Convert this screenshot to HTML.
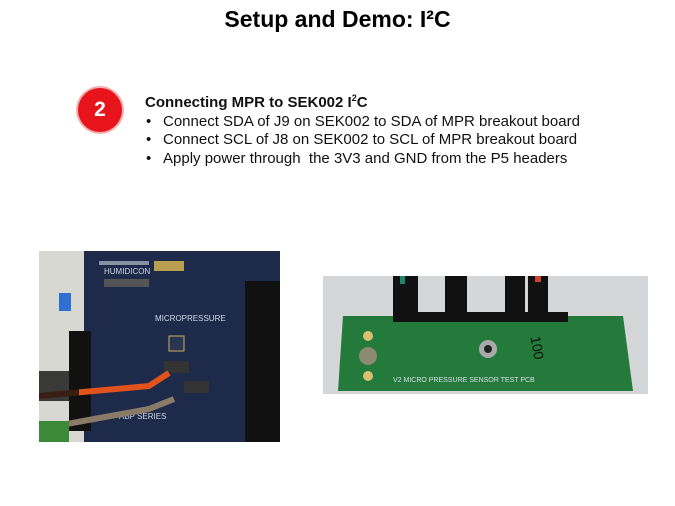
<!DOCTYPE html>
<html><head><meta charset="utf-8"><style>
body{margin:0;width:675px;height:506px;background:#fff;position:relative;overflow:hidden;font-family:"Liberation Sans",Arial,sans-serif}
.t{position:absolute;top:6px;left:0;width:675px;text-align:center;font-size:23px;font-weight:bold;color:#000}
.c{position:absolute;left:78px;top:88px;width:44px;height:44px;border-radius:50%;background:#e8141c;color:#fff;font-size:21px;font-weight:bold;text-align:center;line-height:44px;box-shadow:0 0 0 2px #f3b0b0}
.tx{position:absolute;left:145px;top:89px;font-size:15px;line-height:18.5px;color:#111}
.tx div.li{padding-left:18px;position:relative}
.tx div.li:before{content:"•";position:absolute;left:1px}
svg{position:absolute}
</style></head><body>
<div class="t">Setup and Demo: I²C</div>
<div class="c">2</div>
<div class="tx"><b>Connecting MPR to SEK002 I<sup style="font-size:9px">2</sup>C</b>
<div class="li">Connect SDA of J9 on SEK002 to SDA of MPR breakout board</div>
<div class="li">Connect SCL of J8 on SEK002 to SCL of MPR breakout board</div>
<div class="li">Apply power through&nbsp; the 3V3 and GND from the P5 headers</div></div>

<svg style="left:39px;top:251px" width="241" height="191" viewBox="0 0 241 191">
<rect width="241" height="191" fill="#c9ccc8"/>
<rect x="0" y="0" width="45" height="191" fill="#d8d8d2"/>
<rect x="45" y="0" width="196" height="191" fill="#1d2a4a"/>
<rect x="206" y="30" width="35" height="161" fill="#111"/>
<rect x="30" y="80" width="22" height="100" fill="#111"/>
<rect x="20" y="42" width="12" height="18" fill="#2f6fd0"/>
<rect x="60" y="10" width="50" height="4" fill="#cfd4e0" opacity=".6"/>
<rect x="65" y="28" width="45" height="8" fill="#555"/>
<rect x="115" y="10" width="30" height="10" fill="#b8a050"/>
<text x="65" y="23" font-size="8" fill="#cfd6e6" font-family="Liberation Sans">HUMIDICON</text>
<text x="116" y="70" font-size="8" fill="#cfd6e6" font-family="Liberation Sans">MICROPRESSURE</text>
<text x="80" y="168" font-size="8" fill="#cfd6e6" font-family="Liberation Sans">ABP SERIES</text>
<rect x="130" y="85" width="15" height="15" fill="#2a3550" stroke="#c8b060"/>
<rect x="125" y="110" width="25" height="12" fill="#333"/>
<rect x="145" y="130" width="25" height="12" fill="#333"/>
<path d="M0 145 L110 135 L130 122" stroke="#e2521c" stroke-width="6" fill="none"/>
<path d="M0 178 L110 158 L135 148" stroke="#8a7a68" stroke-width="6" fill="none"/>
<rect x="0" y="120" width="40" height="30" fill="#111" opacity=".8"/>
<rect x="0" y="170" width="30" height="21" fill="#3a8a3a"/>
</svg>

<svg style="left:323px;top:276px" width="325" height="118" viewBox="0 0 325 118">
<rect width="325" height="118" fill="#d4d6d8"/>
<path d="M20 40 L300 40 L310 115 L15 115 Z" fill="#237a3a"/>
<rect x="70" y="0" width="25" height="45" fill="#111"/>
<rect x="122" y="0" width="22" height="45" fill="#111"/>
<rect x="182" y="0" width="20" height="45" fill="#111"/>
<rect x="205" y="0" width="20" height="45" fill="#111"/>
<rect x="70" y="36" width="175" height="10" fill="#111"/>
<rect x="77" y="0" width="5" height="8" fill="#1a8a6a"/>
<rect x="212" y="0" width="6" height="6" fill="#c43"/>
<circle cx="45" cy="60" r="5" fill="#d8c070"/>
<circle cx="45" cy="80" r="9" fill="#8a8a70"/>
<circle cx="45" cy="100" r="5" fill="#d8c070"/>
<circle cx="165" cy="73" r="9" fill="#aaa"/><circle cx="165" cy="73" r="4" fill="#222"/>
<text x="70" y="106" font-size="7" fill="#dde" font-family="Liberation Sans">V2 MICRO PRESSURE SENSOR TEST PCB</text>
<text x="200" y="80" font-size="14" fill="#111" font-family="Liberation Sans" transform="rotate(80 215 75)">100</text>
</svg>
</body></html>
